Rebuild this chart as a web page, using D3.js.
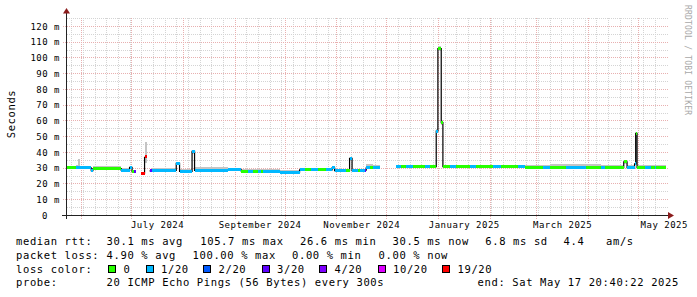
<!DOCTYPE html>
<html><head><meta charset="utf-8">
<script src="https://cdn.jsdelivr.net/npm/d3@7"></script>
<style>
html,body{margin:0;padding:0;background:#fff;}
svg{display:block;}
text{font-family:"DejaVu Sans Mono",monospace;fill:#000;}
</style></head><body>
<svg id="chart" width="697" height="297"></svg>
<script>
// ---------------- DATA ----------------
const endTime = "2025-05-17T20:40:22Z";
const spanDays = 360;
const segStart = [
"2024-05-22T20:40:22Z","2024-05-29","2024-05-30","2024-05-31","2024-06-07","2024-06-08","2024-06-25","2024-06-30",
"2024-07-01T12:00Z","2024-07-02T12:00Z","2024-07-04","2024-07-07","2024-07-09","2024-07-10T12:00Z","2024-07-12","2024-07-13T12:00Z",
"2024-07-28","2024-07-30","2024-08-06T12:00Z","2024-08-08","2024-08-28","2024-09-05","2024-09-09","2024-09-12",
"2024-09-15","2024-09-17","2024-09-18","2024-09-28","2024-10-10","2024-10-13","2024-10-17","2024-10-21",
"2024-10-26","2024-10-29T12:00Z","2024-10-31","2024-11-07","2024-11-09","2024-11-10T12:00Z","2024-11-14","2024-11-15T12:00Z",
"2024-11-18","2024-11-19","2024-11-21","2024-11-23","2024-11-27","2024-12-07","2024-12-10","2024-12-13",
"2024-12-17","2024-12-24","2024-12-27","2024-12-31","2025-01-01","2025-01-03","2025-01-04","2025-01-08",
"2025-01-12","2025-01-20","2025-01-24","2025-02-03","2025-02-08","2025-02-18","2025-02-22","2025-03-05",
"2025-03-09","2025-03-19","2025-03-31","2025-04-09","2025-04-11","2025-04-22T12:00Z","2025-04-24T12:00Z","2025-04-29",
"2025-04-29T16:00Z","2025-04-30T12:00Z","2025-05-05","2025-05-09","2025-05-11","2025-05-12"];
const medianMs = [
30.0,30.0,30.0,30.0,28.2,29.5,28.3,30.3,
27.7,27.7,null,26.5,37.0,null,28.0,28.3,
32.8,27.7,40.4,28.3,28.6,27.9,27.9,27.9,
27.9,27.9,27.7,27.2,28.6,28.6,28.6,28.6,
28.6,30.0,28.2,28.2,36.0,28.2,28.2,28.2,
28.5,30.0,30.0,30.0,null,30.8,30.8,30.8,
30.8,30.8,30.7,53.3,105.7,58.6,30.7,30.7,
30.7,30.7,30.6,30.6,30.5,30.5,30.4,30.4,
30.3,30.0,30.0,30.0,30.0,33.8,30.0,32.5,
51.9,30.0,30.0,30.0,30.0,30.0];
const lossCount = [
0,1,1,1,1,0,1,1,
0,3,0,19,19,0,3,1,
1,1,1,1,1,0,1,0,
1,0,1,1,1,0,1,0,
1,1,1,0,1,1,0,1,
3,1,0,1,0,1,0,1,
0,1,0,1,0,0,0,1,
0,1,0,1,0,1,0,1,
0,1,0,1,0,0,1,1,
0,0,1,0,1,0];
const smokeLo = [
29.2,29.2,29.2,29.3,27.6,29.0,27.8,29.5,
27.2,27.2,null,25.8,33.0,null,27.5,27.8,
31.5,27.0,39.0,27.8,28.0,27.4,27.4,27.4,
27.4,27.4,27.2,26.8,28.0,28.0,28.0,28.0,
28.0,29.3,27.7,27.7,34.5,27.7,27.7,27.7,
28.0,29.3,29.3,29.3,null,30.0,30.0,30.0,
30.0,30.0,30.0,52.0,104.0,57.0,29.8,29.8,
29.8,29.8,29.8,29.8,29.8,29.8,29.6,29.6,
29.5,29.3,29.3,29.3,29.3,32.5,29.3,31.5,
50.5,29.3,29.3,29.3,29.3,29.3];
const smokeHi = [
31.2,31.5,35.5,31.2,29.5,30.8,29.6,31.0,
28.6,28.6,null,27.6,46.5,null,28.8,29.8,
33.6,29.2,41.5,30.3,30.0,29.5,29.3,29.3,
29.0,29.0,29.0,28.4,30.0,30.0,29.8,29.8,
29.8,31.0,29.5,29.5,37.0,29.3,29.3,29.3,
29.3,32.3,32.3,32.0,null,31.8,31.8,31.8,
31.8,31.8,31.8,54.5,107.0,60.0,31.8,31.8,
31.8,31.8,32.0,32.0,32.0,32.0,32.0,32.0,
32.2,32.2,32.2,32.0,32.0,35.0,31.5,33.5,
52.5,31.5,31.5,31.5,31.5,31.5];

const lossLevels = [0,1,2,3,4,10,19];
const lossColors = ["#26ff00","#00b8ff","#0059ff","#5e00ff","#7e00ff","#dd00ff","#ff0000"];
const lossLabels = ["0","1/20","2/20","3/20","4/20","10/20","19/20"];

const yTickValues = [0,10,20,30,40,50,60,70,80,90,100,110,120];
const xTickMonths = ["2024-07-01","2024-09-01","2024-11-01","2025-01-01","2025-03-01","2025-05-01"];
const xTickLabels = ["July 2024","September 2024","November 2024","January 2025","March 2025","May 2025"];

const rttLegend = ["median rtt:","30.1 ms avg","105.7 ms max","26.6 ms min","30.5 ms now","6.8 ms sd","4.4","am/s"];
const lossLegend = ["packet loss:","4.90 % avg","100.00 % max","0.00 % min","0.00 % now"];
const probeLegend = ["probe:","20 ICMP Echo Pings (56 Bytes) every 300s","end: Sat May 17 20:40:22 2025"];
const yTitle = "Seconds";
const watermark = "RRDTOOL / TOBI OETIKER";

// ---------------- LAYOUT ----------------
const svg = d3.select("#chart");
svg.append("rect").attr("width",697).attr("height",297).attr("fill","#fff");

const tEnd = new Date(endTime);
const tStart = new Date(+tEnd - spanDays*864e5);
const x = d3.scaleUtc().domain([tStart,tEnd]).range([66,666]);
const y = d3.scaleLinear().domain([0,125]).range([215,18.1]);
const px = v => Math.round(v)+0.5;

// grid
const grid = svg.append("g").attr("shape-rendering","crispEdges").attr("stroke-dasharray","1,1").attr("stroke-width",1);
const minorY = d3.range(5,126,5).filter(v=>v%10!==0);
const majorY = d3.range(10,121,10);
grid.selectAll(".hmin").data(minorY).join("line")
  .attr("x1",67).attr("x2",668).attr("y1",d=>px(y(d))).attr("y2",d=>px(y(d))).attr("stroke","#d4d4d4");
const weeks = d3.utcSunday.range(tStart,tEnd);
grid.selectAll(".vmin").data(weeks).join("line")
  .attr("x1",d=>px(x(d))).attr("x2",d=>px(x(d))).attr("y1",18).attr("y2",215).attr("stroke","#d4d4d4");
grid.selectAll(".hmaj").data(majorY).join("line")
  .attr("x1",63).attr("x2",668).attr("y1",d=>px(y(d))).attr("y2",d=>px(y(d))).attr("stroke","#e8b0b0");
const months = d3.utcMonth.range(tStart,tEnd);
grid.selectAll(".vmaj").data(months).join("line")
  .attr("x1",d=>px(x(d))).attr("x2",d=>px(x(d))).attr("y1",18).attr("y2",219).attr("stroke","#e8b0b0");

// segments
const segs = segStart.map((s,i)=>({
  t0:new Date(s), t1: i<segStart.length-1 ? new Date(segStart[i+1]) : tEnd,
  med:medianMs[i], loss:lossCount[i], lo:smokeLo[i], hi:smokeHi[i]}));
const valid = segs.filter(d=>d.med!=null);

// smoke
svg.append("g").attr("shape-rendering","crispEdges").selectAll("rect").data(valid).join("rect")
  .attr("x",d=>x(d.t0)).attr("width",d=>Math.max(1,x(d.t1)-x(d.t0)))
  .attr("y",d=>y(d.hi)).attr("height",d=>y(d.lo)-y(d.hi)).attr("fill","#c4c4c4");

// black median connector line
const pts = segs.map(d=>[d.t0,d.med]);
pts.push([tEnd, segs[segs.length-1].med]);
svg.append("path").datum(pts)
  .attr("d", d3.line().defined(p=>p[1]!=null).x(p=>x(p[0])).y(p=>y(p[1])).curve(d3.curveStepAfter))
  .attr("fill","none").attr("stroke","#000").attr("stroke-width",1.2);

// loss-coloured median band
const colorOf = l => lossColors[lossLevels.indexOf(l)];
svg.append("g").attr("shape-rendering","crispEdges").selectAll("rect").data(valid).join("rect")
  .attr("x",d=>x(d.t0)).attr("width",d=>Math.max(1,x(d.t1)-x(d.t0)))
  .attr("y",d=>y(d.med)-1.5).attr("height",3).attr("fill",d=>colorOf(d.loss));

// axes lines + arrows
const axisCol = "#222";
svg.append("line").attr("x1",62).attr("x2",668).attr("y1",215.5).attr("y2",215.5).attr("stroke",axisCol).attr("shape-rendering","crispEdges");
svg.append("line").attr("x1",66.5).attr("x2",66.5).attr("y1",13).attr("y2",219).attr("stroke",axisCol).attr("shape-rendering","crispEdges");
svg.append("polygon").attr("points","668,212 674,215.5 668,219").attr("fill","#8b1c1c");
svg.append("polygon").attr("points","63,13.5 66.5,8 70,13.5").attr("fill","#8b1c1c");

// y axis labels
const gy = svg.append("g").attr("transform","translate(60,0)")
  .call(d3.axisLeft(y).tickValues(yTickValues).tickSize(0).tickPadding(0)
    .tickFormat(v=> v===0 ? "0" : v+" m"));
gy.select(".domain").remove();
gy.attr("font-family","DejaVu Sans Mono").attr("font-size",9);
gy.selectAll("text").attr("dx",d=> d===0 ? "-12px" : "0").attr("dy","0.36em")
  .attr("letter-spacing","0.5px").attr("fill","#000");

// x axis labels (centred on mid-month)
const labelDates = xTickMonths.map(s=>{const m=new Date(s); return new Date((+m + +d3.utcMonth.offset(m,1))/2);});
const gx = svg.append("g").attr("transform","translate(0,225)")
  .call(d3.axisBottom(x).tickValues(labelDates).tickSize(0).tickPadding(0)
    .tickFormat((d,i)=>xTickLabels[i]));
gx.select(".domain").remove();
gx.attr("font-family","DejaVu Sans Mono").attr("font-size",9);
gx.selectAll("text").attr("y",0).attr("dy","0.36em").attr("letter-spacing","0.5px").attr("fill","#000");

// titles
svg.append("text").attr("transform","translate(15,114) rotate(-90)").attr("text-anchor","middle")
  .attr("font-size","10.5px").attr("letter-spacing","0.6px").text(yTitle);
svg.append("text").attr("transform","translate(684.5,5) rotate(90)")
  .attr("font-size","8px").attr("letter-spacing","0.2px").style("fill","#a8a8a8").text(watermark);

// legend
const lg = svg.append("g").attr("font-size","10.5px").attr("letter-spacing","0.62px");
const rowY = [241.7,255,269.3,282.7];
const rttX = [16,106.6,200.3,300,392.6,485.3,563.6,606];
const lossX = [16,106.6,192.6,292,378.6];
const probeX = [16,106.6,477.6];
function row(items,xs,yc){
  lg.selectAll(null).data(items).join("text").attr("x",(d,i)=>xs[i]).attr("y",yc).attr("dy","0.36em")
    .attr("xml:space","preserve").text(d=>d);
}
row(rttLegend,rttX,rowY[0]);
row(lossLegend,lossX,rowY[1]);
row(["loss color:"],[16],rowY[2]);
row(probeLegend,probeX,rowY[3]);
const boxX = [108.5,146,203.5,262,319.5,378,442.5];
const lossKey = lg.selectAll(".key").data(lossLabels).join("g");
lossKey.append("rect").attr("x",(d,i)=>boxX[i]).attr("y",265.5).attr("width",7).attr("height",7)
  .attr("fill",(d,i)=>lossColors[i]).attr("stroke","#000").attr("stroke-width",1).attr("shape-rendering","crispEdges");
lossKey.append("text").attr("x",(d,i)=>boxX[i]+15).attr("y",rowY[2]).attr("dy","0.36em").text(d=>d);
</script>
</body></html>
